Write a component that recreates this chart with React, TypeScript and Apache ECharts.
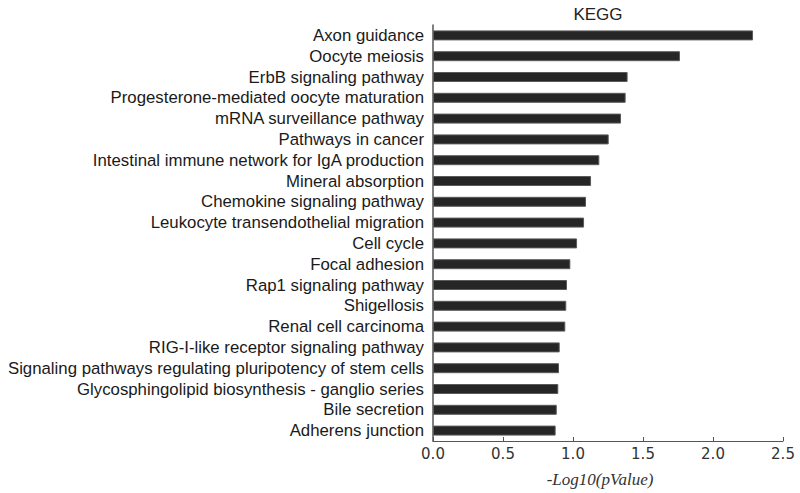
import React, { useEffect, useRef } from "react";
import * as echarts from "echarts";

const categories = [
  "Axon guidance",
  "Oocyte meiosis",
  "ErbB signaling pathway",
  "Progesterone-mediated oocyte maturation",
  "mRNA surveillance pathway",
  "Pathways in cancer",
  "Intestinal immune network for IgA production",
  "Mineral absorption",
  "Chemokine signaling pathway",
  "Leukocyte transendothelial migration",
  "Cell cycle",
  "Focal adhesion",
  "Rap1 signaling pathway",
  "Shigellosis",
  "Renal cell carcinoma",
  "RIG-I-like receptor signaling pathway",
  "Signaling pathways regulating pluripotency of stem cells",
  "Glycosphingolipid biosynthesis - ganglio series",
  "Bile secretion",
  "Adherens junction",
];

const values = [
  2.286, 1.764, 1.39, 1.376, 1.343, 1.255, 1.188, 1.129, 1.093, 1.079,
  1.029, 0.981, 0.957, 0.952, 0.945, 0.905, 0.9, 0.895, 0.884, 0.876,
];

const xTicks = ["0.0", "0.5", "1.0", "1.5", "2.0", "2.5"];

export default function App() {
  const ref = useRef<HTMLDivElement>(null);
  useEffect(() => {
    if (!ref.current) return;
    const chart = echarts.init(ref.current, undefined, { renderer: "svg" });
    chart.setOption({
      animation: false,
      backgroundColor: "#ffffff",
      title: {
        text: "KEGG",
        left: 593,
        top: 1,
        textAlign: "center",
        textStyle: {
          fontFamily: "Liberation Sans, Arial, sans-serif",
          fontSize: 17,
          fontWeight: "normal",
          color: "#222",
        },
      },
      grid: {
        left: 433,
        right: 17,
        top: 25,
        bottom: 52,
        containLabel: false,
        outerBoundsMode: "none",
      },
      xAxis: {
        type: "value",
        min: 0,
        max: 2.5,
        interval: 0.5,
        name: "-Log10(pValue)",
        nameLocation: "middle",
        nameGap: 30,
        nameTextStyle: {
          fontFamily: "Liberation Serif, Times New Roman, serif",
          fontStyle: "italic",
          fontSize: 17,
          color: "#333",
          padding: [0, 0, 0, -16],
        },
        axisLine: { show: true, lineStyle: { color: "#555", width: 1 } },
        axisTick: { show: true, inside: true, length: 4, lineStyle: { color: "#555" } },
        splitLine: { show: false },
        axisLabel: {
          fontFamily: "DejaVu Sans, sans-serif",
          fontSize: 15,
          color: "#333",
          margin: 5,
          formatter: (v: number) => xTicks[Math.round(v / 0.5)] ?? String(v),
        },
      },
      yAxis: {
        type: "category",
        data: categories,
        inverse: true,
        axisLine: { show: true, lineStyle: { color: "#555", width: 1.5 } },
        axisTick: { show: false },
        axisLabel: {
          interval: 0,
          hideOverlap: false,
          fontFamily: "Liberation Sans, Arial, sans-serif",
          fontSize: 16.8,
          color: "#1a1a1a",
          margin: 9,
        },
      },
      series: [
        {
          type: "bar",
          data: values,
          barWidth: 10,
          itemStyle: { color: "#262626", borderColor: "#5a5a5a", borderWidth: 1 },
        },
      ],
    });
    return () => chart.dispose();
  }, []);
  return (
    <div
      ref={ref}
      style={{ position: "fixed", left: 0, top: 0, width: 800, height: 493 }}
    />
  );
}
